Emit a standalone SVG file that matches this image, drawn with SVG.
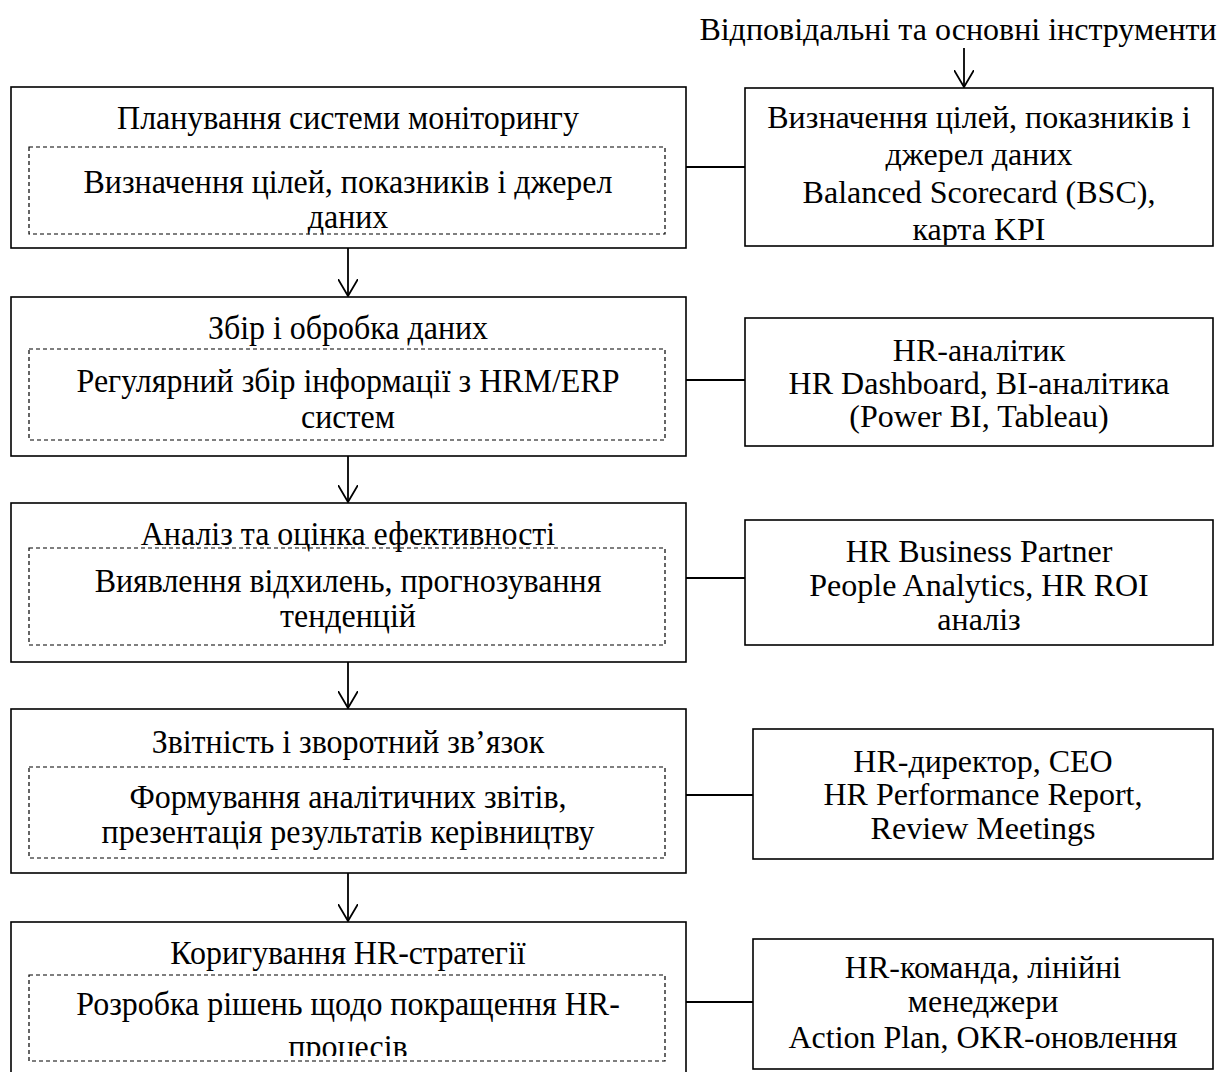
<svg xmlns="http://www.w3.org/2000/svg" width="1218" height="1072" viewBox="0 0 1218 1072">
<style>
.box{fill:#fff;stroke:#000;stroke-width:1.6}
.dash{fill:none;stroke:#000;stroke-width:1.2;stroke-dasharray:4 3}
.t{font-family:"Liberation Serif","Times New Roman",serif;font-size:32px;fill:#000;text-anchor:middle}
.l{font-family:"Liberation Serif","Times New Roman",serif;font-size:34px;fill:#000;text-anchor:middle}
.c{stroke:#000;stroke-width:1.8;fill:none}
</style>
<defs>
<marker id="ah" viewBox="0 0 18 20" refX="17" refY="10" markerWidth="18" markerHeight="20" markerUnits="userSpaceOnUse" orient="auto">
<path d="M0,0 L17,10 L0,20" fill="none" stroke="#000" stroke-width="1.8"/>
</marker>
<clipPath id="cr1"><rect x="745" y="88" width="468" height="157"/></clipPath>
<clipPath id="cd5"><rect x="0" y="975" width="1218" height="81"/></clipPath>
</defs>

<text class="t" x="958" y="40">Відповідальні та основні інструменти</text>

<g id="connectors">
<line class="c" x1="964" y1="48" x2="964" y2="87" marker-end="url(#ah)"/>
<line class="c" x1="348" y1="248" x2="348" y2="296" marker-end="url(#ah)"/>
<line class="c" x1="348" y1="456" x2="348" y2="502" marker-end="url(#ah)"/>
<line class="c" x1="348" y1="662" x2="348" y2="708" marker-end="url(#ah)"/>
<line class="c" x1="348" y1="873" x2="348" y2="921" marker-end="url(#ah)"/>
<line class="c" x1="686" y1="167" x2="745" y2="167"/>
<line class="c" x1="686" y1="380" x2="745" y2="380"/>
<line class="c" x1="686" y1="578" x2="745" y2="578"/>
<line class="c" x1="686" y1="795" x2="753" y2="795"/>
<line class="c" x1="686" y1="1002" x2="753" y2="1002"/>
</g>

<g id="step1">
<rect class="box" x="11" y="87" width="675" height="161"/>
<rect class="dash" x="29" y="147" width="636" height="87"/>
<g transform="matrix(0.94 0 0 1 20.88 0)">
<text class="l" x="348" y="129">Планування системи моніторингу</text>
<text class="l"><tspan x="348" y="193">Визначення цілей, показників і джерел</tspan><tspan x="348" y="228">даних</tspan></text>
</g>
</g>

<g id="tool1">
<rect class="box" x="745" y="88" width="468" height="158"/>
<g clip-path="url(#cr1)">
<text class="t"><tspan x="979" y="128">Визначення цілей, показників і</tspan><tspan x="979" y="165">джерел даних</tspan><tspan x="979" y="203">Balanced Scorecard (BSC),</tspan><tspan x="979" y="240">карта KPI</tspan></text>
</g>
</g>

<g id="step2">
<rect class="box" x="11" y="297" width="675" height="159"/>
<rect class="dash" x="29" y="349" width="636" height="91"/>
<g transform="matrix(0.94 0 0 1 20.88 0)">
<text class="l" x="348" y="339">Збір і обробка даних</text>
<text class="l"><tspan x="348" y="392">Регулярний збір інформації з HRM/ERP</tspan><tspan x="348" y="428">систем</tspan></text>
</g>
</g>

<g id="tool2">
<rect class="box" x="745" y="318" width="468" height="128"/>
<text class="t"><tspan x="979" y="361">HR-аналітик</tspan><tspan x="979" y="394">HR Dashboard, BI-аналітика</tspan><tspan x="979" y="427">(Power BI, Tableau)</tspan></text>
</g>

<g id="step3">
<rect class="box" x="11" y="503" width="675" height="159"/>
<rect class="dash" x="29" y="548" width="636" height="97"/>
<g transform="matrix(0.94 0 0 1 20.88 0)">
<text class="l" x="348" y="545">Аналіз та оцінка ефективності</text>
<text class="l"><tspan x="348" y="592">Виявлення відхилень, прогнозування</tspan><tspan x="348" y="627">тенденцій</tspan></text>
</g>
</g>

<g id="tool3">
<rect class="box" x="745" y="520" width="468" height="125"/>
<text class="t"><tspan x="979" y="562">HR Business Partner</tspan><tspan x="979" y="596">People Analytics, HR ROI</tspan><tspan x="979" y="630">аналіз</tspan></text>
</g>

<g id="step4">
<rect class="box" x="11" y="709" width="675" height="164"/>
<rect class="dash" x="29" y="767" width="636" height="91"/>
<g transform="matrix(0.94 0 0 1 20.88 0)">
<text class="l" x="348" y="753">Звітність і зворотний зв’язок</text>
<text class="l"><tspan x="348" y="808">Формування аналітичних звітів,</tspan><tspan x="348" y="843">презентація результатів керівництву</tspan></text>
</g>
</g>

<g id="tool4">
<rect class="box" x="753" y="729" width="460" height="130"/>
<text class="t"><tspan x="983" y="772">HR-директор, CEO</tspan><tspan x="983" y="805">HR Performance Report,</tspan><tspan x="983" y="839">Review Meetings</tspan></text>
</g>

<g id="step5">
<rect class="box" x="11" y="922" width="675" height="170"/>
<rect class="dash" x="29" y="975" width="636" height="86"/>
<g transform="matrix(0.94 0 0 1 20.88 0)">
<text class="l" x="348" y="964">Коригування HR-стратегії</text>
<g clip-path="url(#cd5)">
<text class="l"><tspan x="348" y="1015">Розробка рішень щодо покращення HR-</tspan><tspan x="348" y="1058">процесів</tspan></text>
</g>
</g>
</g>

<g id="tool5">
<rect class="box" x="753" y="939" width="460" height="130"/>
<text class="t"><tspan x="983" y="978">HR-команда, лінійні</tspan><tspan x="983" y="1012">менеджери</tspan><tspan x="983" y="1048">Action Plan, OKR-оновлення</tspan></text>
</g>
</svg>
